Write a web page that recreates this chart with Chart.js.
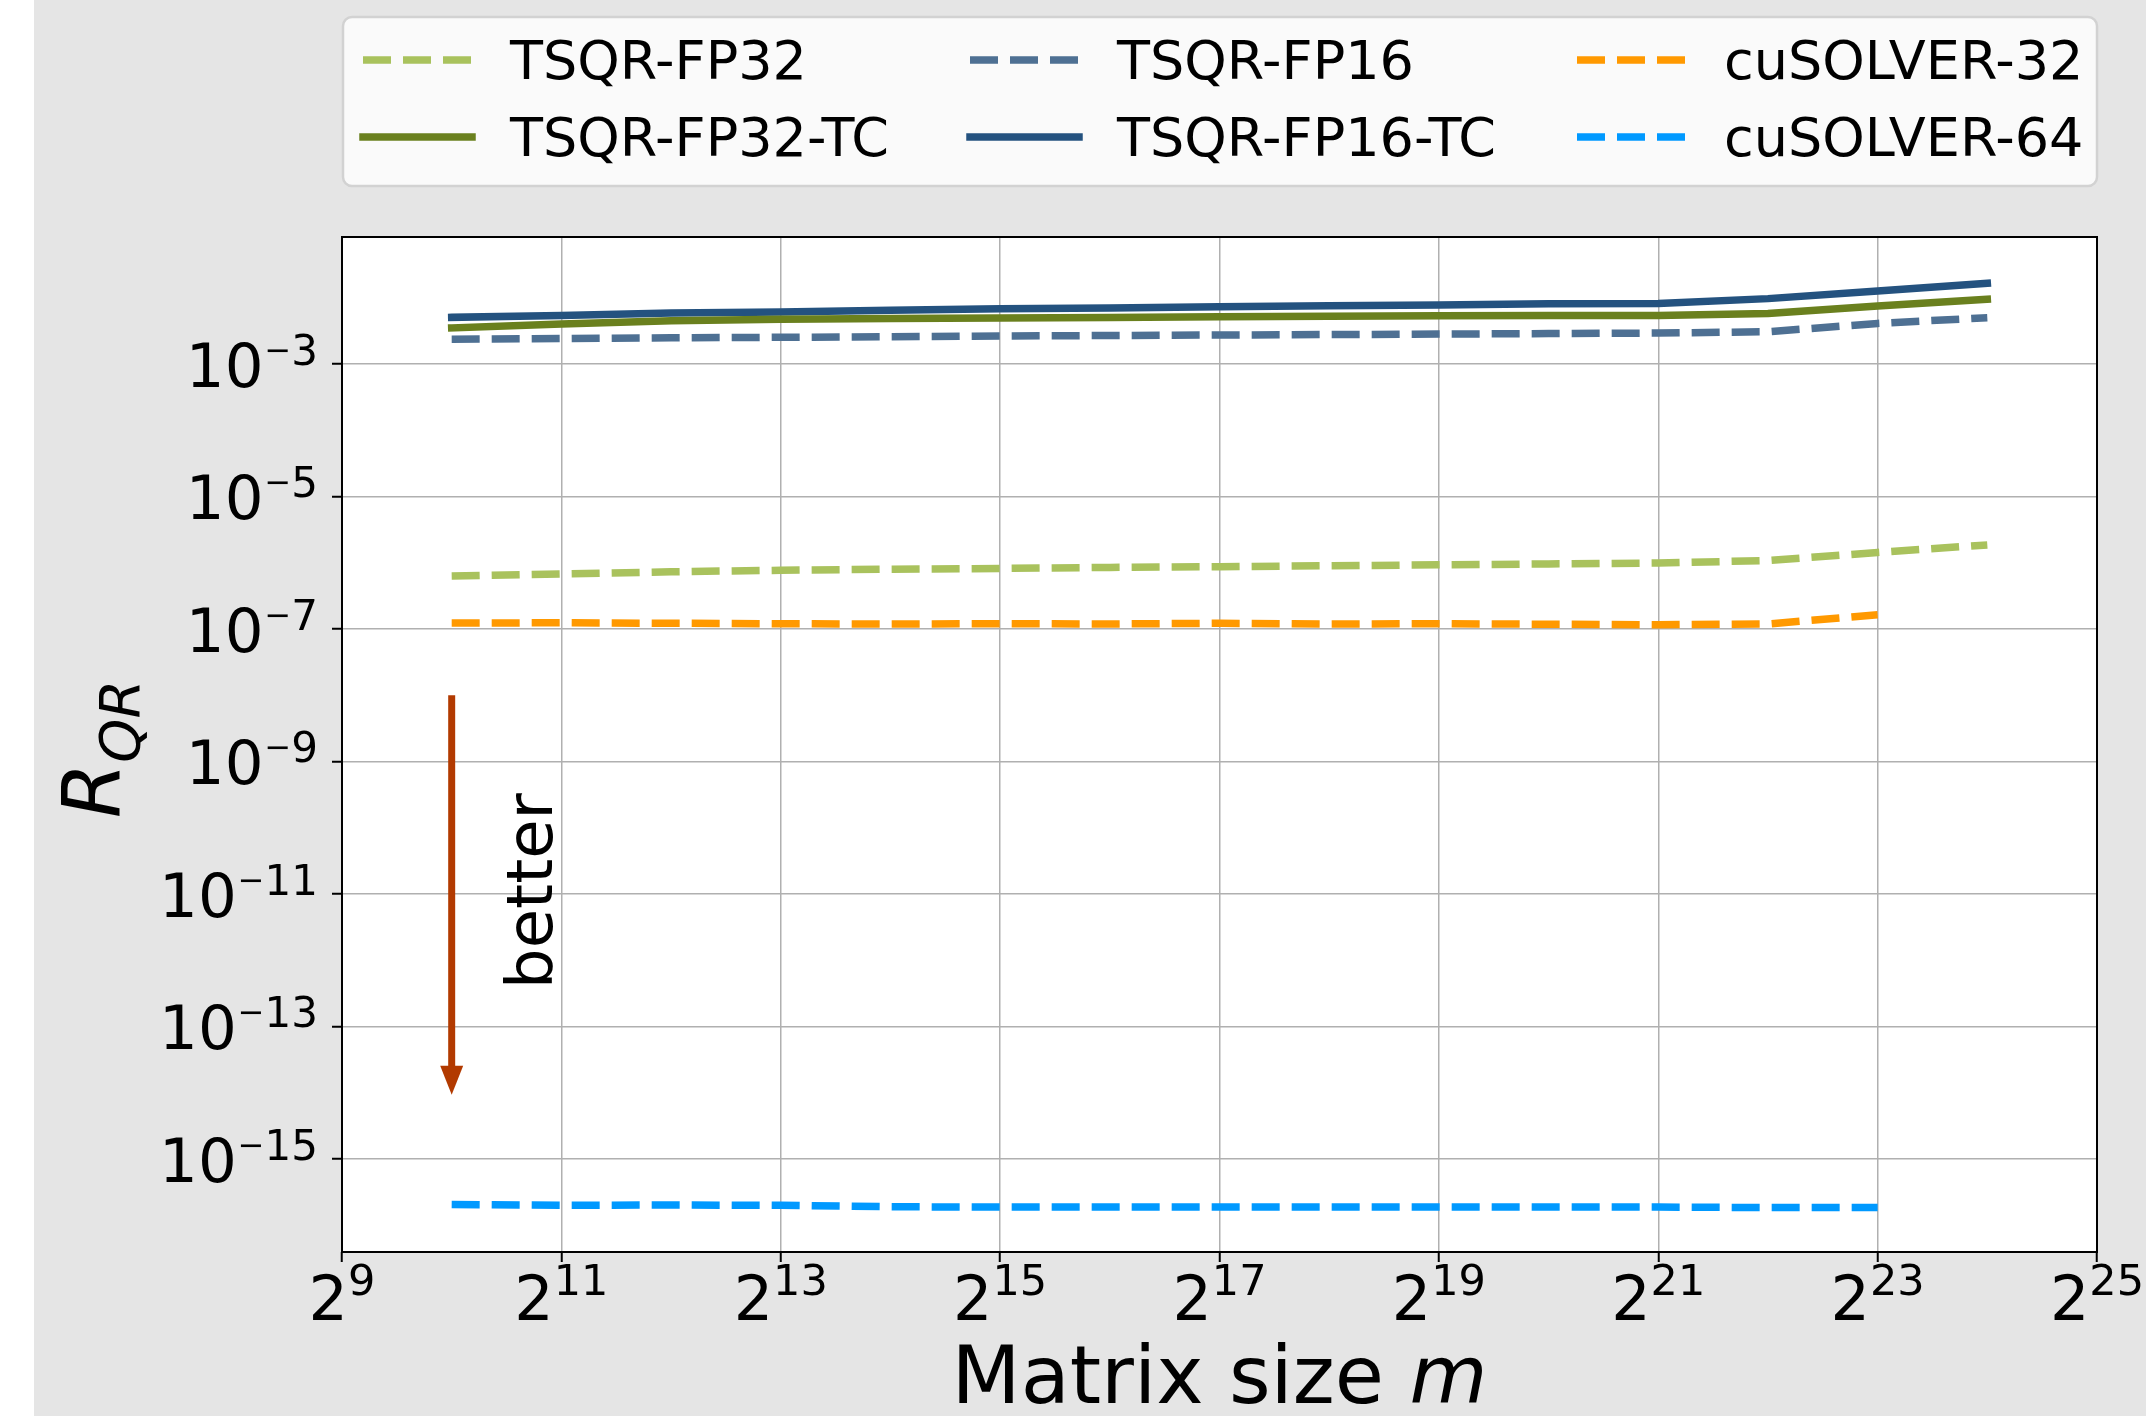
<!DOCTYPE html>
<html>
<head>
<meta charset="utf-8">
<script src="https://cdn.jsdelivr.net/npm/chart.js@4/dist/chart.umd.min.js"></script>
<style>
  html, body { margin: 0; padding: 0; background: #fff; }
  canvas { display: block; }
</style>
</head>
<body>
<canvas id="myChart" width="2146" height="1416"></canvas>
<script>
// Données : m = 2^k
const sizeExps = [10, 11, 12, 13, 14, 15, 16, 17, 18, 19, 20, 21, 22, 23, 24];

const tsqrFp32   = [6.3e-7, 6.8e-7, 7.3e-7, 7.7e-7, 8.0e-7, 8.2e-7, 8.5e-7, 8.7e-7, 9.0e-7, 9.3e-7, 9.6e-7, 9.9e-7, 1.08e-6, 1.43e-6, 1.86e-6];
const tsqrFp32Tc = [3.5e-3, 4.0e-3, 4.5e-3, 4.75e-3, 4.85e-3, 4.95e-3, 5.05e-3, 5.15e-3, 5.25e-3, 5.35e-3, 5.4e-3, 5.4e-3, 5.8e-3, 7.5e-3, 9.5e-3];
const tsqrFp16   = [2.36e-3, 2.42e-3, 2.48e-3, 2.53e-3, 2.58e-3, 2.64e-3, 2.69e-3, 2.74e-3, 2.78e-3, 2.83e-3, 2.88e-3, 2.93e-3, 3.07e-3, 4.1e-3, 5.0e-3];
const tsqrFp16Tc = [5.06e-3, 5.4e-3, 5.9e-3, 6.1e-3, 6.5e-3, 6.8e-3, 7.0e-3, 7.3e-3, 7.6e-3, 7.8e-3, 8.1e-3, 8.2e-3, 9.7e-3, 1.26e-2, 1.65e-2];
const cusolver32 = [1.23e-7, 1.24e-7, 1.22e-7, 1.2e-7, 1.19e-7, 1.2e-7, 1.19e-7, 1.22e-7, 1.19e-7, 1.2e-7, 1.18e-7, 1.16e-7, 1.19e-7, 1.64e-7];
const cusolver64 = [2.05e-16, 2.0e-16, 2.02e-16, 2.0e-16, 1.9e-16, 1.88e-16, 1.88e-16, 1.88e-16, 1.88e-16, 1.89e-16, 1.88e-16, 1.88e-16, 1.85e-16, 1.86e-16];

const seriesLabels = ["TSQR-FP32", "TSQR-FP32-TC", "TSQR-FP16", "TSQR-FP16-TC", "cuSOLVER-32", "cuSOLVER-64"];

// Graduations (exposants)
const xTickExps = [9, 11, 13, 15, 17, 19, 21, 23, 25];
const yTickExps = [-15, -13, -11, -9, -7, -5, -3];

// Flèche "better" (coordonnées en données)
const arrowFrom = [2 ** 10, 1e-8];
const arrowTo = [2 ** 10, 10 ** -14.03];
const betterAt = [2 ** 10.91, 10 ** -10.955];

const FONT = '"DejaVu Sans"';

const toPoints = vals => vals.map((v, i) => ({ x: 2 ** sizeExps[i], y: v }));

const dashed = [28, 12];
const lineBase = { borderWidth: 7.5, pointRadius: 0, tension: 0, fill: false, borderJoinStyle: 'round' };

const datasets = [
  { label: seriesLabels[0], data: toPoints(tsqrFp32), borderColor: '#a9c25d', borderDash: dashed, borderCapStyle: 'butt' },
  { label: seriesLabels[1], data: toPoints(tsqrFp32Tc), borderColor: '#6a801e', borderDash: [], borderCapStyle: 'square' },
  { label: seriesLabels[2], data: toPoints(tsqrFp16), borderColor: '#4e7093', borderDash: dashed, borderCapStyle: 'butt' },
  { label: seriesLabels[3], data: toPoints(tsqrFp16Tc), borderColor: '#24527f', borderDash: [], borderCapStyle: 'square' },
  { label: seriesLabels[4], data: toPoints(cusolver32), borderColor: '#ff9900', borderDash: dashed, borderCapStyle: 'butt' },
  { label: seriesLabels[5], data: toPoints(cusolver64), borderColor: '#0099ff', borderDash: dashed, borderCapStyle: 'butt' }
].map(d => Object.assign({}, lineBase, d));

// Fond, cadre, textes, flèche et légende
const decor = {
  id: 'decor',
  beforeDraw(chart) {
    const { ctx, chartArea: a, width, height } = chart;
    ctx.save();
    ctx.fillStyle = '#ffffff';
    ctx.fillRect(0, 0, width, height);
    ctx.fillStyle = '#e5e5e5';
    ctx.fillRect(34, 0, width - 34, height);
    ctx.fillStyle = '#ffffff';
    ctx.fillRect(a.left, a.top, a.right - a.left, a.bottom - a.top);
    ctx.restore();
  },
  afterDraw(chart) {
    const { ctx, chartArea: a } = chart;
    const xs = chart.scales.x, ys = chart.scales.y;
    ctx.save();

    // cadre des axes
    ctx.strokeStyle = '#000';
    ctx.lineWidth = 2;
    ctx.setLineDash([]);
    ctx.strokeRect(a.left, a.top, a.right - a.left, a.bottom - a.top);

    ctx.fillStyle = '#000';
    ctx.textBaseline = 'alphabetic';

    // étiquettes x : 2^k
    xTickExps.forEach(e => {
      const px = xs.getPixelForValue(2 ** e);
      ctx.font = '62px ' + FONT;
      const wb = ctx.measureText('2').width;
      ctx.font = '43px ' + FONT;
      const we = ctx.measureText(String(e)).width;
      const start = px - (wb + we) / 2;
      ctx.textAlign = 'left';
      ctx.font = '62px ' + FONT;
      ctx.fillText('2', start, a.bottom + 68);
      ctx.font = '43px ' + FONT;
      ctx.fillText(String(e), start + wb, a.bottom + 43);
    });

    // étiquettes y : 10^k
    yTickExps.forEach(e => {
      const py = ys.getPixelForValue(10 ** e);
      const digits = String(Math.abs(e));
      const right = a.left - 24;
      ctx.textAlign = 'right';
      ctx.font = '42px ' + FONT;
      const wd = ctx.measureText(digits).width;
      ctx.fillText(digits, right, py + 1);
      ctx.font = '32px ' + FONT;
      const wm = ctx.measureText('\u2212').width;
      ctx.fillText('\u2212', right - wd, py - 3);
      ctx.font = '61px ' + FONT;
      ctx.fillText('10', right - wd - wm - 1, py + 23);
    });

    // titre x
    ctx.font = '80px ' + FONT;
    const t1 = 'Matrix size ';
    const w1 = ctx.measureText(t1).width;
    ctx.font = 'italic 80px ' + FONT;
    const w2 = ctx.measureText('m').width;
    const cx = (a.left + a.right) / 2;
    ctx.textAlign = 'left';
    ctx.font = '80px ' + FONT;
    ctx.fillText(t1, cx - (w1 + w2) / 2, 1403);
    ctx.font = 'italic 80px ' + FONT;
    ctx.fillText('m', cx - (w1 + w2) / 2 + w1, 1403);

    // titre y : R_QR
    ctx.save();
    ctx.translate(120, 749);
    ctx.rotate(-Math.PI / 2);
    ctx.font = 'italic 80px ' + FONT;
    const wR = ctx.measureText('R').width;
    ctx.font = 'italic 56px ' + FONT;
    const wQR = ctx.measureText('QR').width;
    const s0 = -(wR + wQR) / 2;
    ctx.textAlign = 'left';
    ctx.font = 'italic 80px ' + FONT;
    ctx.fillText('R', s0, 0);
    ctx.font = 'italic 56px ' + FONT;
    ctx.fillText('QR', s0 + wR, 19);
    ctx.restore();

    // flèche "better"
    const ax = xs.getPixelForValue(arrowFrom[0]);
    const ay0 = ys.getPixelForValue(arrowFrom[1]);
    const ay1 = ys.getPixelForValue(arrowTo[1]);
    ctx.strokeStyle = '#b23a00';
    ctx.fillStyle = '#b23a00';
    ctx.lineWidth = 7;
    ctx.lineCap = 'butt';
    ctx.beginPath();
    ctx.moveTo(ax, ay0);
    ctx.lineTo(ax, ay1 - 26);
    ctx.stroke();
    ctx.beginPath();
    ctx.moveTo(ax - 11.5, ay1 - 29);
    ctx.lineTo(ax + 11.5, ay1 - 29);
    ctx.lineTo(ax, ay1);
    ctx.closePath();
    ctx.fill();

    ctx.save();
    ctx.translate(xs.getPixelForValue(betterAt[0]), ys.getPixelForValue(betterAt[1]));
    ctx.rotate(-Math.PI / 2);
    ctx.fillStyle = '#000';
    ctx.textAlign = 'center';
    ctx.font = '64px ' + FONT;
    ctx.fillText('better', 0, 0);
    ctx.restore();

    // légende (3 colonnes, 2 lignes)
    ctx.beginPath();
    ctx.roundRect(343, 17, 1754, 169, 9);
    ctx.fillStyle = '#fafafa';
    ctx.fill();
    ctx.strokeStyle = '#d2d2d2';
    ctx.lineWidth = 2.5;
    ctx.stroke();

    chart.data.datasets.forEach((ds, i) => {
      const col = Math.floor(i / 2), row = i % 2;
      const x0 = 363 + col * 607;
      const y0 = row ? 137 : 60;
      ctx.strokeStyle = ds.borderColor;
      ctx.lineWidth = ds.borderWidth;
      ctx.setLineDash(ds.borderDash);
      ctx.lineCap = ds.borderCapStyle;
      ctx.beginPath();
      ctx.moveTo(x0, y0);
      ctx.lineTo(x0 + 109, y0);
      ctx.stroke();
      ctx.setLineDash([]);
      ctx.fillStyle = '#000';
      ctx.textAlign = 'left';
      ctx.font = '54px ' + FONT;
      ctx.fillText(ds.label, x0 + 147, y0 + 19);
    });

    ctx.restore();
  }
};

const gridStyle = { color: '#b0b0b0', lineWidth: 1.5, tickColor: '#000', tickLength: 10, tickWidth: 2 };

const ctx = document.getElementById("myChart").getContext("2d");
const myChart = new Chart(ctx, {
  type: 'line',
  data: { datasets: datasets },
  options: {
    responsive: false,
    animation: false,
    devicePixelRatio: 1,
    layout: { padding: { left: 0, top: 237, right: 49, bottom: 0 } },
    plugins: {
      legend: { display: false },
      tooltip: { enabled: false }
    },
    scales: {
      x: {
        type: 'logarithmic',
        position: 'bottom',
        min: 2 ** 9,
        max: 2 ** 25,
        bounds: 'data',
        afterBuildTicks: s => { s.ticks = xTickExps.map(e => ({ value: 2 ** e })); },
        afterFit: s => { s.height = 164; },
        ticks: { display: false, autoSkip: false },
        grid: gridStyle,
        border: { display: false }
      },
      y: {
        type: 'logarithmic',
        position: 'left',
        min: 10 ** -16.404,
        max: 10 ** -1.083,
        bounds: 'data',
        afterBuildTicks: s => { s.ticks = yTickExps.map(e => ({ value: 10 ** e })); },
        afterFit: s => { s.width = 342; },
        ticks: { display: false, autoSkip: false },
        grid: gridStyle,
        border: { display: false }
      }
    }
  },
  plugins: [decor]
});
</script>
</body>
</html>
